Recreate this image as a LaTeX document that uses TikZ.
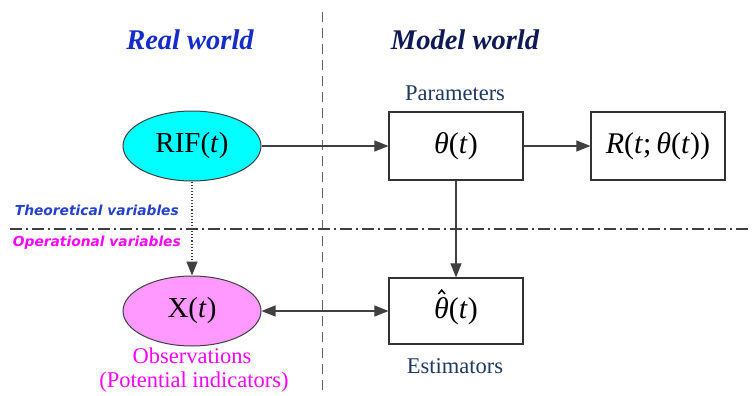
\documentclass[tikz,border=0pt]{standalone}
\usepackage{fontspec}
\setmainfont{Liberation Serif}
\newfontfamily\vfont{DejaVu Sans}
\usetikzlibrary{arrows.meta,shapes.geometric}
\definecolor{realblue}{RGB}{20,45,200}
\definecolor{modelnavy}{RGB}{15,25,85}
\definecolor{parblue}{RGB}{31,56,100}
\definecolor{theoblue}{RGB}{35,65,205}
\definecolor{mag}{RGB}{255,0,255}
\definecolor{pinkfill}{RGB}{255,153,255}
\definecolor{cyanfill}{RGB}{0,255,255}
\definecolor{linegrey}{RGB}{64,64,64}
\newcommand{\hatmark}{\tikz[overlay,x=1pt,y=1pt]\draw[line width=0.05em, line join=miter] (-0.35em,0.81em) -- (-0.24em,0.94em) -- (-0.13em,0.81em);}
\tikzset{
  ell/.style={ellipse, draw=linegrey, line width=1pt, minimum width=138pt, minimum height=70pt, inner sep=0pt, font=\fontsize{29}{32}\selectfont},
  boxnode/.style={rectangle, draw=black!80, line width=1.2pt, minimum width=134pt, minimum height=68pt, inner sep=0pt, font=\fontsize{30}{33}\selectfont},
  arr/.style={draw=linegrey, line width=1.1pt, -{Triangle[length=14pt,width=11pt]}},
  arrboth/.style={draw=linegrey, line width=1.1pt, {Triangle[length=14pt,width=11pt]}-{Triangle[length=14pt,width=11pt]}},
  sidelabel/.style={font=\fontsize{22.5}{25}\selectfont, inner sep=0pt},
  headlabel/.style={font=\fontsize{28.5}{31}\selectfont\bfseries\itshape, inner sep=0pt},
  varlabel/.style={font=\vfont\fontsize{13.8}{15}\selectfont\bfseries\itshape, inner sep=0pt}
}
\begin{document}
\begin{tikzpicture}[x=1pt,y=-1pt]
\useasboundingbox[fill=white] (0,0) rectangle (752,396);
% separator lines
\coordinate (vtop) at (322,12);
\coordinate (vbot) at (322,396);
\coordinate (hleft) at (10,229);
\coordinate (hright) at (752,229);
\draw[draw=linegrey!80, line width=1pt, dash pattern=on 10pt off 6pt] (vtop) -- (vbot);
\draw[draw=linegrey, line width=1.2pt, dash pattern=on 12pt off 4pt on 2pt off 4pt] (hleft) -- (hright);
% headings
\node[headlabel, text=realblue] (real) at (190,40) {Real world};
\node[headlabel, text=modelnavy] (model) at (465,40) {Model world};
% nodes
\node[ell, fill=cyanfill] (rif) at (192,146) {RIF(\textit{t})};
\node[ell, fill=pinkfill] (x) at (192,311) {X(\textit{t})};
\node[boxnode] (th) at (456,146) {\textit{θ}(\textit{t})};
\node[boxnode] (r) at (658,146) {\textit{R}(\textit{t};\,\textit{θ}(\textit{t}))};
\node[boxnode, minimum height=66pt] (thh) at (456,311) {\textit{θ}\hatmark(\textit{t})};
% labels
\node[sidelabel, text=parblue] (par) at (455,93) {Parameters};
\node[sidelabel, text=parblue] (est) at (455,366) {Estimators};
\node[sidelabel, text=mag] (obs) at (192,356) {Observations};
\node[sidelabel, text=mag] (pot) at (194,382) {(Potential indicators)};
\node[varlabel, text=theoblue, anchor=east] (theo) at (179,210) {Theoretical variables};
\node[varlabel, text=mag, anchor=east] (oper) at (181,243) {Operational variables};
% connectors
\draw[arr] (rif) -- (th);
\draw[arr] (th) -- (r);
\draw[arr] (th) -- (thh);
\draw[arr, dotted] (rif) -- (x);
\draw[arrboth] (x) -- (thh);
\end{tikzpicture}
\end{document}
